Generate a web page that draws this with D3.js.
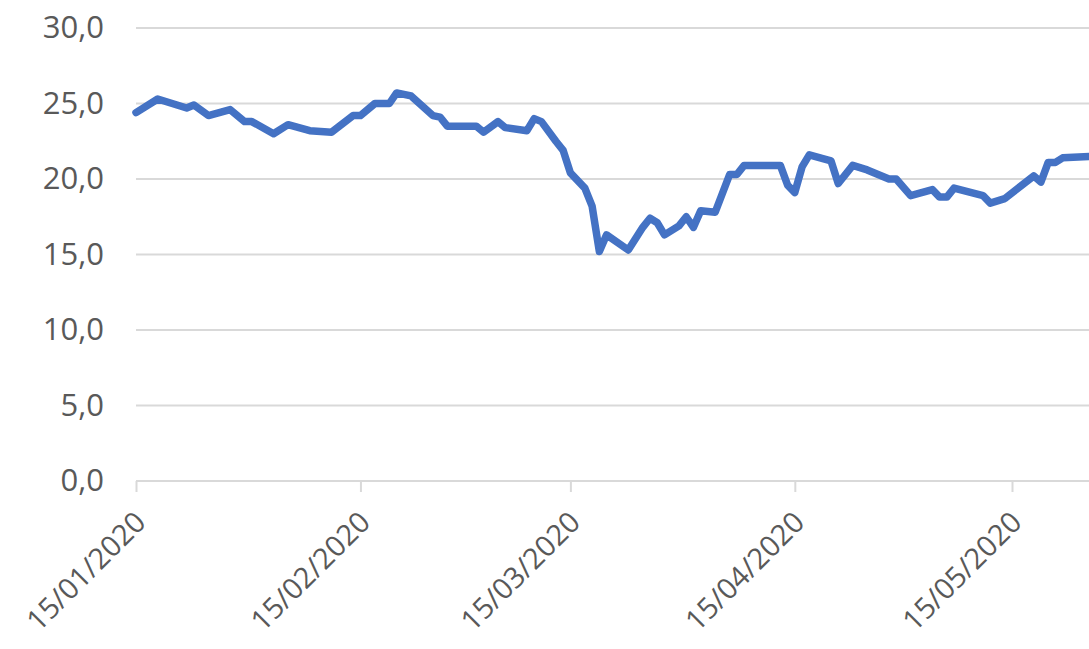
<!DOCTYPE html>
<html>
<head>
<meta charset="utf-8">
<script src="https://cdn.jsdelivr.net/npm/d3@7"></script>
<style>
  body { margin: 0; background: #fff; }
  svg { display: block; }
  .tick text { font-family: "Open Sans", sans-serif; fill: #595959; }
</style>
</head>
<body>
<div id="chart"></div>
<script>
//----------------------------
// Data
//----------------------------

var dates = [
    "2020-01-15", "2020-01-18", "2020-01-20", "2020-01-22", "2020-01-23", "2020-01-25",
    "2020-01-28", "2020-01-30", "2020-01-31", "2020-02-03", "2020-02-05", "2020-02-08",
    "2020-02-11", "2020-02-14", "2020-02-15", "2020-02-17", "2020-02-19", "2020-02-20",
    "2020-02-21", "2020-02-22", "2020-02-25", "2020-02-26", "2020-02-27", "2020-03-02",
    "2020-03-03", "2020-03-05", "2020-03-06", "2020-03-09", "2020-03-10", "2020-03-11",
    "2020-03-13", "2020-03-14", "2020-03-15", "2020-03-17", "2020-03-18", "2020-03-19",
    "2020-03-20", "2020-03-23", "2020-03-25", "2020-03-26", "2020-03-27", "2020-03-28",
    "2020-03-30", "2020-03-31", "2020-04-01", "2020-04-02", "2020-04-04", "2020-04-06",
    "2020-04-07", "2020-04-08", "2020-04-13", "2020-04-14", "2020-04-15", "2020-04-16",
    "2020-04-17", "2020-04-20", "2020-04-21", "2020-04-23", "2020-04-25", "2020-04-28",
    "2020-04-29", "2020-05-01", "2020-05-04", "2020-05-05", "2020-05-06", "2020-05-07",
    "2020-05-11", "2020-05-12", "2020-05-14", "2020-05-18", "2020-05-19", "2020-05-20",
    "2020-05-21", "2020-05-22", "2020-05-26", "2020-05-28"
];

var values = [
    24.4, 25.3, 25.0, 24.7, 24.9, 24.2,
    24.6, 23.8, 23.8, 23.0, 23.6, 23.2,
    23.1, 24.2, 24.2, 25.0, 25.0, 25.7,
    25.6, 25.5, 24.2, 24.1, 23.5, 23.5,
    23.1, 23.8, 23.4, 23.2, 24.0, 23.8,
    22.5, 21.9, 20.4, 19.4, 18.2, 15.2,
    16.3, 15.3, 16.8, 17.4, 17.1, 16.3,
    16.9, 17.5, 16.8, 17.9, 17.8, 20.3,
    20.3, 20.9, 20.9, 19.6, 19.1, 20.8,
    21.6, 21.2, 19.7, 20.9, 20.6, 20.0,
    20.0, 18.9, 19.3, 18.8, 18.8, 19.4,
    18.9, 18.4, 18.7, 20.2, 19.8, 21.1,
    21.1, 21.4, 21.5, 21.6
];

var xTickDates = ["2020-01-15", "2020-02-15", "2020-03-15", "2020-04-15", "2020-05-15"];
var yTicks = [0, 5, 10, 15, 20, 25, 30];

//----------------------------
// Scales
//----------------------------

var w = 1089;
var h = 649;
var parse = d3.timeParse("%Y-%m-%d");
var data = dates.map(function (d, i) { return { date: parse(d), value: values[i] }; });

var x = d3.scaleTime()
    .domain([parse("2020-01-15"), parse("2020-05-15")])
    .range([136, 1012]);

var y = d3.scaleLinear()
    .domain([0, 30])
    .range([481, 28]);

// axis keeps going past the right edge of the picture
var xEnd = x(parse("2020-06-15"));

var svg = d3.select("#chart")
    .append("svg")
    .attr("width", w)
    .attr("height", h);

//----------------------------
// Gridlines
//----------------------------

svg.append("g")
    .selectAll("line")
    .data(yTicks.filter(function (d) { return d > 0; }))
    .enter()
    .append("line")
    .attr("x1", x.range()[0])
    .attr("x2", xEnd)
    .attr("y1", function (d) { return y(d); })
    .attr("y2", function (d) { return y(d); })
    .attr("stroke", "#d9d9d9")
    .attr("stroke-width", 2);

//----------------------------
// Axes
//----------------------------

var yAxis = svg.append("g")
    .attr("transform", "translate(" + x.range()[0] + ",0)")
    .call(d3.axisLeft(y)
        .tickValues(yTicks)
        .tickSize(0)
        .tickPadding(32)
        .tickFormat(function (d) { return d3.format(".1f")(d).replace(".", ","); }));
yAxis.select(".domain").remove();
yAxis.selectAll("text").attr("font-size", 31);

var xAxis = svg.append("g")
    .attr("transform", "translate(0," + y(0) + ")")
    .call(d3.axisBottom(x)
        .tickValues(xTickDates.map(parse))
        .tickSize(11)
        .tickSizeOuter(0)
        .tickFormat(d3.timeFormat("%d/%m/%Y")));
xAxis.select(".domain")
    .attr("d", "M" + x.range()[0] + ",0H" + xEnd)
    .attr("stroke", "#d9d9d9")
    .attr("stroke-width", 2);
xAxis.selectAll(".tick line")
    .attr("stroke", "#d9d9d9")
    .attr("stroke-width", 2);
xAxis.selectAll(".tick text")
    .attr("font-size", 29)
    .attr("text-anchor", "end")
    .attr("y", 0)
    .attr("dy", 0)
    .attr("transform", "translate(11,43) rotate(-45)");

//----------------------------
// Line
//----------------------------

var line = d3.line()
    .x(function (d) { return x(d.date); })
    .y(function (d) { return y(d.value); });

svg.append("path")
    .datum(data)
    .attr("fill", "none")
    .attr("stroke", "#4472c4")
    .attr("stroke-width", 7.5)
    .attr("stroke-linejoin", "round")
    .attr("stroke-linecap", "round")
    .attr("d", line);
</script>
</body>
</html>
